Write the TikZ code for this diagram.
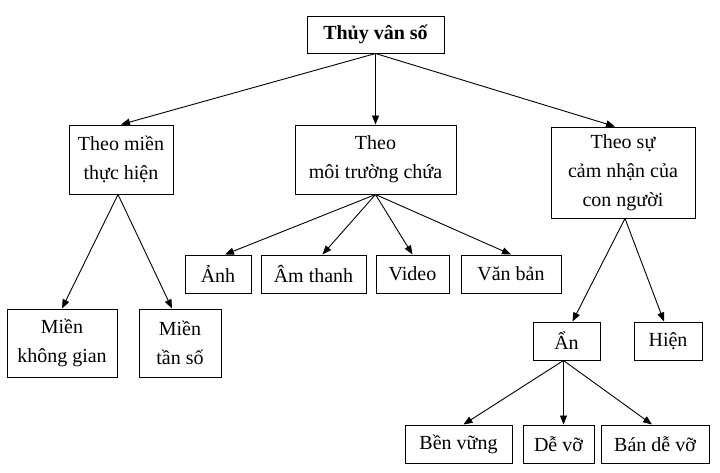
\documentclass[tikz,border=0pt]{standalone}
\usepackage{fontspec}
\setmainfont{Liberation Serif}
\usepackage{tikz}
\usetikzlibrary{arrows.meta,positioning}

\newcommand{\boxfont}{\fontsize{20}{29}\selectfont}

\begin{document}
\begin{tikzpicture}[
        x=1pt, y=-1pt,
        node distance=9pt,
        box/.style={rectangle, draw, line width=1pt, align=center,
        font=\boxfont, inner sep=0pt, minimum height=38pt},
        arrow/.style={line width=0.9pt, -{Triangle[length=9pt,width=7pt]}}
    ]
        \useasboundingbox (0,0) rectangle (720,472);

% Root
        \node[box, font=\boxfont\bfseries, minimum width=137pt, minimum height=37pt]
        (root) at (375.5,34.5) {Thủy vân số};

% Second level
        \node[box, minimum width=161pt, minimum height=69pt, below=71pt of root]
        (moi) {Theo\\ môi trường chứa};
        \node[box, minimum width=104pt, minimum height=69pt, left=121pt of moi]
        (mien) {Theo miền\\ thực hiện};
        \node[box, minimum width=144pt, minimum height=91pt, right=94pt of moi, yshift=-13pt]
        (camnhan) {Theo sự\\ cảm nhận của\\ con người};

% Domains
        \node[box, minimum width=110pt, minimum height=68pt] (khonggian) at (62,343)
        {Miền\\ không gian};
        \node[box, minimum width=82pt, minimum height=68pt, right=21pt of khonggian]
        (tanso) {Miền\\ tần số};

% Media
        \node[box, minimum width=66pt] (anh) at (218,274) {Ảnh};
        \node[box, minimum width=105pt, right=of anh] (amthanh) {Âm thanh};
        \node[box, minimum width=73pt, right=of amthanh] (video) {Video};
        \node[box, minimum width=100pt, right=11pt of video] (vanban) {Văn bản};

% Perception
        \node[box, minimum width=67pt] (an) at (566.5,341) {Ẩn};
        \node[box, minimum width=68pt, right=33pt of an] (hien) {Hiện};

% Robustness
        \node[box, minimum width=107pt] (benvung) at (458.5,444) {Bền vững};
        \node[box, minimum width=71pt, right=10pt of benvung] (devo) {Dễ vỡ};
        \node[box, minimum width=108pt, right=6pt of devo] (bandevo) {Bán dễ vỡ};

% Arrows
        \draw[arrow] (root.south) -- (mien.north);
        \draw[arrow] (root.south) -- (moi.north);
        \draw[arrow] (root.south) -- ([xshift=-8pt]camnhan.north);
        \draw[arrow] ([xshift=-3pt]mien.south) -- (khonggian.north);
        \draw[arrow] ([xshift=-3pt]mien.south) -- ([xshift=-8pt]tanso.north);
        \draw[arrow] (moi.south) -- ([xshift=7pt]anh.north);
        \draw[arrow] (moi.south) -- ([xshift=9pt]amthanh.north);
        \draw[arrow] (moi.south) -- (video.north);
        \draw[arrow] (moi.south) -- (vanban.north);
        \draw[arrow] ([xshift=2pt]camnhan.south) -- ([xshift=6pt]an.north);
        \draw[arrow] ([xshift=2pt]camnhan.south) -- ([xshift=-4pt]hien.north);
        \draw[arrow] ([xshift=-3pt]an.south) -- ([xshift=5pt]benvung.north);
        \draw[arrow] ([xshift=-3pt]an.south) -- ([xshift=-3pt]an.south |- devo.north);
        \draw[arrow] ([xshift=-3pt]an.south) -- ([xshift=-3pt]bandevo.north);

    \end{tikzpicture}
\end{document}
